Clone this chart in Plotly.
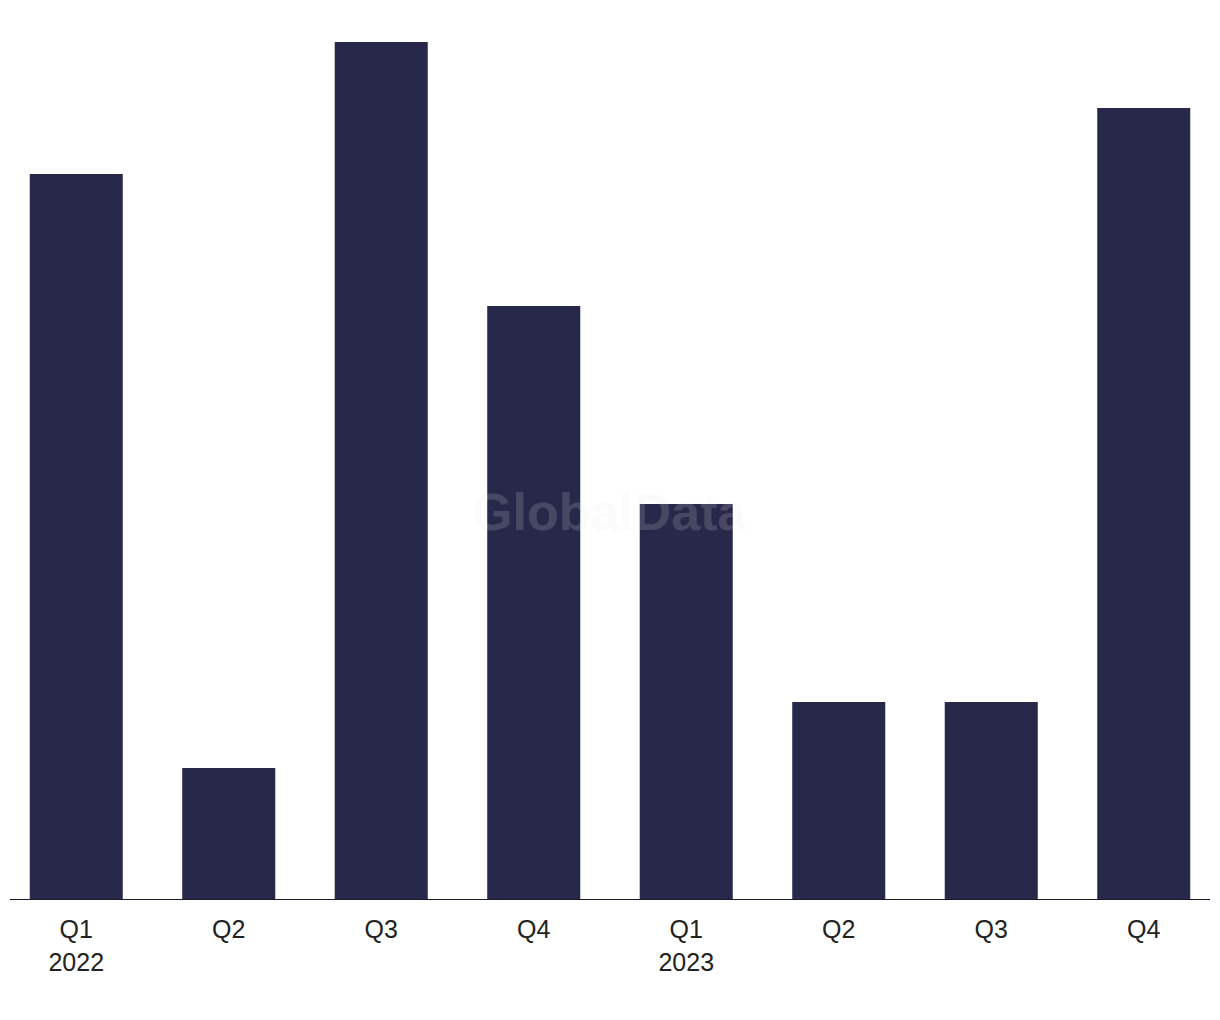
import plotly.graph_objects as go

tick_labels = ["Q1<br>2022", "Q2", "Q3", "Q4", "Q1<br>2023", "Q2", "Q3", "Q4"]
values = [11, 2, 13, 9, 6, 3, 3, 12]

bar_color = "#28284A"
text_color = "#222222"

# The page body has an 8px margin, so the figure is sized to fill the remaining window.
W, H = 1212, 1012
M_T, M_B = 20, 120
plot_h = H - M_T - M_B

positions = list(range(len(values)))

fig = go.Figure(
    go.Bar(
        x=positions,
        y=values,
        marker=dict(color=bar_color, line=dict(width=0)),
        width=0.61,
        hovertext=[t.replace("<br>", " ") for t in tick_labels],
        hoverinfo="text+y",
    )
)

fig.update_layout(
    width=W,
    height=H,
    margin=dict(l=0, r=0, t=M_T, b=M_B),
    paper_bgcolor="white",
    plot_bgcolor="white",
    showlegend=False,
    font=dict(family="Liberation Sans, Arial, sans-serif", size=25, color=text_color),
    xaxis=dict(
        range=[-0.4475, 7.5],
        tickmode="array",
        tickvals=positions,
        ticktext=tick_labels,
        showgrid=False,
        showline=False,
        zeroline=False,
        ticks="",
        ticklabelstandoff=12,
        tickfont=dict(size=25, color=text_color),
    ),
    yaxis=dict(
        range=[0, plot_h / 66],
        showgrid=False,
        showline=False,
        zeroline=False,
        showticklabels=False,
        ticks="",
    ),
    shapes=[
        dict(
            type="line",
            xref="paper",
            yref="y",
            x0=2 / W,
            x1=1202 / W,
            y0=0,
            y1=0,
            line=dict(color="#1a1a2e", width=2),
        )
    ],
    annotations=[
        dict(
            text="<b>GlobalData</b>",
            xref="paper",
            yref="paper",
            x=602 / W,
            y=(892 - 504) / plot_h,
            xanchor="center",
            yanchor="middle",
            showarrow=False,
            font=dict(family="Liberation Sans, Arial, sans-serif", size=52, color="rgba(230,230,235,0.17)"),
        )
    ],
)

fig.write_html("out.html")
